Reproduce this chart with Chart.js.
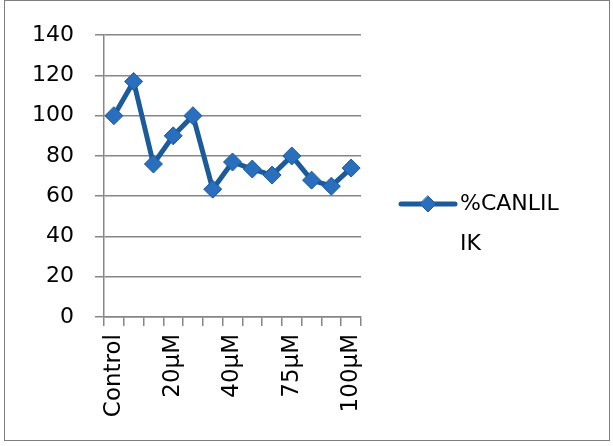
<!DOCTYPE html>
<html>
<head>
<meta charset="utf-8">
<script src="https://cdn.jsdelivr.net/npm/chart.js@4"></script>
<style>
  html, body { margin: 0; padding: 0; background: #fff; }
  #frame {
    position: absolute; left: 4px; top: 0px;
    width: 604px; height: 439px;
    border: 1px solid #7f7f7f;
  }
  #frame canvas { display: block; }
</style>
</head>
<body>
<div id="frame"><canvas id="c" width="604" height="439"></canvas></div>
<script>
// categories (only every 3rd label is shown in the original)
const categories = ['Control', '', '', '20\u03bcM', '', '', '40\u03bcM', '', '', '75\u03bcM', '', '', '100\u03bcM'];
const canlilik = [100, 117, 76, 90, 100, 63.5, 77, 73.5, 70.5, 80, 68, 65, 74];
const seriesName = '%CANLILIK';
const legendLines = ['%CANLIL', 'IK'];
const yTicks = [0, 20, 40, 60, 80, 100, 120, 140];

const FONT = "'Comic Sans MS', 'DejaVu Sans', sans-serif";
const LINE = '#1b5b9b';
const MARK = '#2a6fbd';

// legend drawn by hand so the label can wrap like the original
const sideLegend = {
  id: 'sideLegend',
  afterDraw(chart) {
    const ctx = chart.ctx;
    const x0 = 396, y0 = 203;
    ctx.save();
    ctx.strokeStyle = LINE;
    ctx.lineWidth = 5;
    ctx.lineCap = 'round';
    ctx.beginPath();
    ctx.moveTo(x0, y0);
    ctx.lineTo(x0 + 54, y0);
    ctx.stroke();
    // diamond
    const cx = x0 + 27, r = 8;
    ctx.beginPath();
    ctx.moveTo(cx, y0 - r); ctx.lineTo(cx + r, y0); ctx.lineTo(cx, y0 + r); ctx.lineTo(cx - r, y0);
    ctx.closePath();
    ctx.fillStyle = MARK; ctx.fill();
    ctx.lineWidth = 1; ctx.strokeStyle = LINE; ctx.stroke();
    ctx.fillStyle = '#000';
    ctx.font = '22px ' + FONT;
    ctx.textBaseline = 'middle';
    legendLines.forEach((t, i) => ctx.fillText(t, x0 + 59, y0 + i * 40));
    ctx.restore();
  }
};

new Chart(document.getElementById('c'), {
  type: 'line',
  data: {
    labels: categories,
    datasets: [{
      label: seriesName,
      data: canlilik,
      borderColor: LINE,
      borderWidth: 5,
      backgroundColor: MARK,
      pointStyle: 'rectRot',
      pointRadius: 9,
      pointBorderColor: LINE,
      pointBorderWidth: 1,
      tension: 0
    }]
  },
  options: {
    responsive: false,
    animation: false,
    layout: { padding: { top: 29, right: 248, left: 0, bottom: 0 } },
    plugins: { legend: { display: false }, tooltip: { enabled: false } },
    scales: {
      x: {
        offset: true,
        afterFit: s => { s.height = 123; },
        grid: { offset: true, drawOnChartArea: false, drawTicks: true, tickLength: 9, color: '#868686', lineWidth: 1.5 },
        border: { color: '#868686', width: 1.5 },
        ticks: {
          autoSkip: false, maxRotation: 90, minRotation: 90, padding: 8,
          color: '#000', font: { family: FONT, size: 23 }
        }
      },
      y: {
        min: 0, max: 140,
        afterFit: s => { s.width = 99; },
        afterBuildTicks: s => { s.ticks = yTicks.map(v => ({ value: v })); },
        grid: { color: '#868686', lineWidth: 1.5, tickLength: 9 },
        border: { color: '#868686', width: 1.5 },
        ticks: { padding: 21, color: '#000', font: { family: FONT, size: 22 } }
      }
    }
  },
  plugins: [sideLegend]
});
</script>
</body>
</html>
